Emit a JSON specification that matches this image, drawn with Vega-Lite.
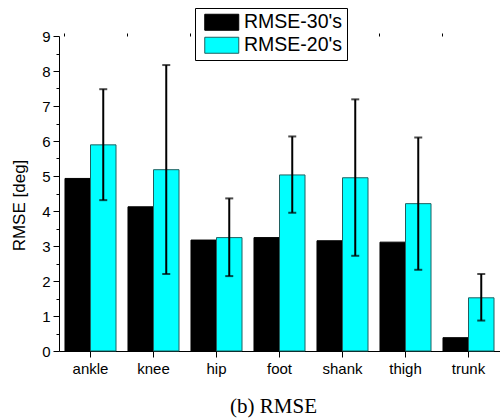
{
  "$schema": "https://vega.github.io/schema/vega-lite/v6.json",
  "autosize": "none",
  "width": 441,
  "height": 315,
  "padding": {"left": 59, "top": 36, "right": 0, "bottom": 68},
  "background": "white",
  "title": {"text": "(b) RMSE", "orient": "bottom", "font": "Liberation Serif", "fontSize": 21, "fontWeight": "normal", "color": "black", "dx": -6, "offset": 20},
  "config": {
    "view": {"stroke": null},
    "font": "Liberation Sans",
    "axis": {"grid": false, "domainColor": "black", "tickColor": "black", "labelColor": "black", "titleColor": "black", "labelFont": "Liberation Sans", "titleFont": "Liberation Sans", "labelFontSize": 15, "titleFontWeight": "normal", "domainWidth": 1, "tickWidth": 1},
    "legend": {"symbolStrokeColor": "#1f4f4f", "symbolStrokeWidth": 1}
  },
  "data": {"values": [
    {"joint": "ankle", "series": "RMSE-30's", "value": 4.93},
    {"joint": "ankle", "series": "RMSE-20's", "value": 5.89, "lo": 4.31, "hi": 7.48},
    {"joint": "knee", "series": "RMSE-30's", "value": 4.12},
    {"joint": "knee", "series": "RMSE-20's", "value": 5.18, "lo": 2.2, "hi": 8.17},
    {"joint": "hip", "series": "RMSE-30's", "value": 3.17},
    {"joint": "hip", "series": "RMSE-20's", "value": 3.24, "lo": 2.14, "hi": 4.36},
    {"joint": "foot", "series": "RMSE-30's", "value": 3.24},
    {"joint": "foot", "series": "RMSE-20's", "value": 5.03, "lo": 3.95, "hi": 6.13},
    {"joint": "shank", "series": "RMSE-30's", "value": 3.15},
    {"joint": "shank", "series": "RMSE-20's", "value": 4.95, "lo": 2.72, "hi": 7.19},
    {"joint": "thigh", "series": "RMSE-30's", "value": 3.11},
    {"joint": "thigh", "series": "RMSE-20's", "value": 4.21, "lo": 2.32, "hi": 6.1},
    {"joint": "trunk", "series": "RMSE-30's", "value": 0.38},
    {"joint": "trunk", "series": "RMSE-20's", "value": 1.52, "lo": 0.87, "hi": 2.2}
  ]},
  "resolve": {"axis": {"y": "independent", "x": "independent"}},
  "layer": [
    {
      "mark": {"type": "bar", "strokeWidth": 1},
      "encoding": {
        "x": {"field": "joint", "type": "nominal", "sort": ["ankle", "knee", "hip", "foot", "shank", "thigh", "trunk"],
              "scale": {"paddingInner": 0.19, "paddingOuter": 0.095},
              "axis": {"title": null, "labelAngle": 0, "tickSize": 6, "labelPadding": 4, "domainWidth": 1}},
        "xOffset": {"field": "series", "type": "nominal", "sort": ["RMSE-30's", "RMSE-20's"], "scale": {"paddingInner": 0, "paddingOuter": 0}},
        "y": {"field": "value", "type": "quantitative", "scale": {"domain": [0, 9], "nice": false, "zero": true},
              "axis": {"title": "RMSE [deg]", "titleFontSize": 17, "values": [0,1,2,3,4,5,6,7,8,9], "tickSize": 6, "labelPadding": 3, "titlePadding": 13, "titleY": 169}},
        "color": {"field": "series", "type": "nominal", "sort": ["RMSE-30's", "RMSE-20's"],
                  "scale": {"domain": ["RMSE-30's", "RMSE-20's"], "range": ["#000000", "#00FFFF"]},
                  "legend": {"title": null, "orient": "none", "legendX": 136, "legendY": -28, "strokeColor": "black", "fillColor": "white", "padding": 4.5,
                             "symbolType": "M-0.5625,-1H3.6875V1H-0.5625Z", "symbolSize": 256, "labelFontSize": 19.5, "labelFont": "Liberation Sans", "labelColor": "black", "labelOffset": 25, "rowPadding": 2}},
        "stroke": {"field": "series", "type": "nominal", "scale": {"domain": ["RMSE-30's", "RMSE-20's"], "range": ["#000000", "#1f6060"]}, "legend": null}
      }
    },
    {
      "transform": [{"filter": "datum.hi != null"}],
      "mark": {"type": "rule", "color": "black", "strokeWidth": 2, "xOffset": 12.75},
      "encoding": {
        "x": {"field": "joint", "type": "nominal", "sort": ["ankle", "knee", "hip", "foot", "shank", "thigh", "trunk"],
              "axis": {"title": null, "labels": false, "domain": false, "tickSize": 3, "bandPosition": 0}},
        "y": {"field": "lo", "type": "quantitative",
              "axis": {"title": null, "labels": false, "domain": false, "orient": "left", "tickSize": 3, "values": [0.5,1.5,2.5,3.5,4.5,5.5,6.5,7.5,8.5]}},
        "y2": {"field": "hi"}
      }
    },
    {
      "transform": [{"filter": "datum.hi != null"}],
      "mark": {"type": "tick", "color": "black", "thickness": 2, "size": 8, "xOffset": 12.75},
      "encoding": {
        "x": {"field": "joint", "type": "nominal", "sort": ["ankle", "knee", "hip", "foot", "shank", "thigh", "trunk"], "axis": null},
        "y": {"field": "hi", "type": "quantitative", "axis": null}
      }
    },
    {
      "transform": [{"filter": "datum.hi != null"}],
      "mark": {"type": "tick", "color": "black", "thickness": 2, "size": 8, "xOffset": 12.75},
      "encoding": {
        "x": {"field": "joint", "type": "nominal", "sort": ["ankle", "knee", "hip", "foot", "shank", "thigh", "trunk"], "axis": null},
        "y": {"field": "lo", "type": "quantitative", "axis": null}
      }
    }
  ]
}
